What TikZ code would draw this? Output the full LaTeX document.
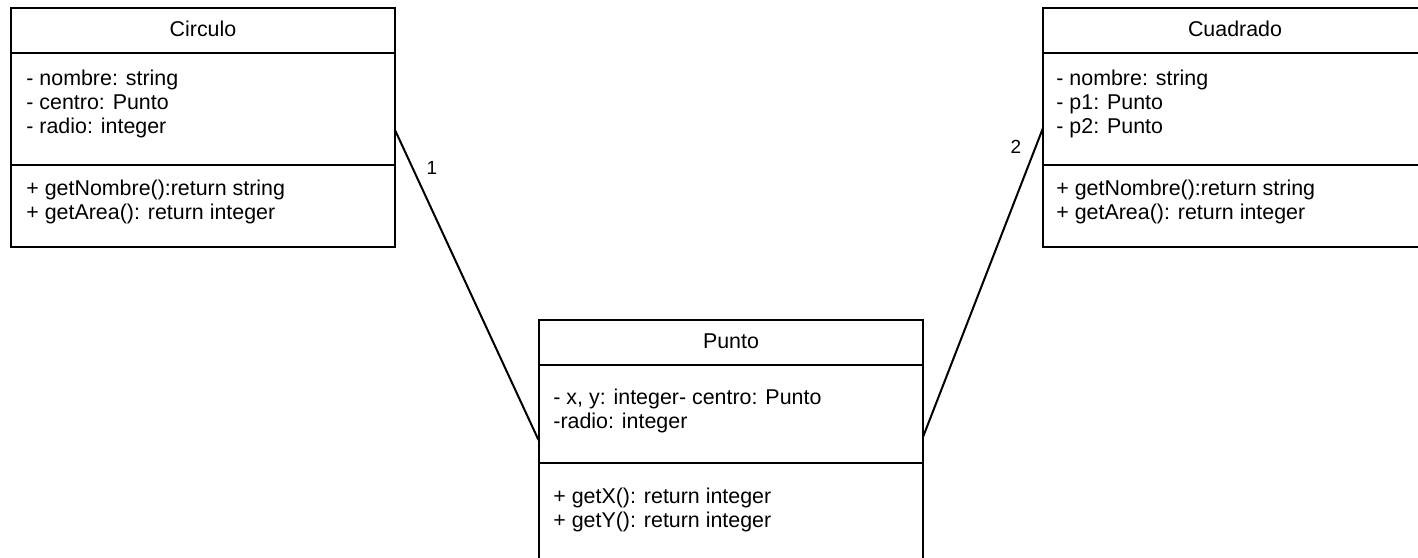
\documentclass[tikz,border=0pt]{standalone}
\usepackage{fontspec}
\setmainfont{Liberation Sans}
\begin{document}
\begin{tikzpicture}[x=0.5pt,y=-0.5pt,
  classbox/.style={draw, line width=1pt, anchor=north west, inner sep=0pt, outer sep=0pt,
    minimum width=192pt, minimum height=119.5pt},
  divider/.style={line width=1pt},
  classname/.style={inner sep=0pt, font=\fontsize{10.7}{12}\selectfont},
  members/.style={anchor=west, align=left, inner sep=0pt, font=\fontsize{10.7}{12}\selectfont},
  assoc/.style={line width=1pt},
  mult/.style={inner sep=0pt, font=\fontsize{9.5}{11}\selectfont}]
\useasboundingbox (0,0) rectangle (1418,557);
\clip (0,0) rectangle (1418,557);

% class Circulo
\node[classbox] (circulo) at (11,8) {};
\draw[divider] (11,53) -- (395,53);
\draw[divider] (11,165) -- (395,165);
\node[classname] (circuloname) at (203,29) {Circulo};
\node[members] (circuloattrs) at (26,104) {- nombre: string\\- centro: Punto\\- radio: integer};
\node[members] (circuloops) at (26,202) {+ getNombre():return string\\+ getArea(): return integer};

% class Cuadrado
\node[classbox] (cuadrado) at (1043,8) {};
\draw[divider] (1043,53) -- (1428,53);
\draw[divider] (1043,165) -- (1428,165);
\node[classname] (cuadradoname) at (1235,29) {Cuadrado};
\node[members] (cuadradoattrs) at (1056,104) {- nombre: string\\- p1: Punto\\- p2: Punto};
\node[members] (cuadradoops) at (1056,202) {+ getNombre():return string\\+ getArea(): return integer};

% class Punto
\node[classbox] (punto) at (538.5,320) {};
\draw[divider] (538.5,365) -- (923,365);
\draw[divider] (538.5,463) -- (923,463);
\node[classname] (puntoname) at (731,341) {Punto};
\node[members] (puntoattrs) at (553,411) {- x, y: integer- centro: Punto\\-radio: integer};
\node[members] (puntoops) at (553,510) {+ getX(): return integer\\+ getY(): return integer};

% association ends on the class borders
\coordinate (circuloport) at (395,130);
\coordinate (puntoleft) at (538.5,440);
\coordinate (cuadradoport) at (1043,128);
\coordinate (puntoright) at (923,437);

\draw[assoc] (circuloport) -- (puntoleft);
\draw[assoc] (cuadradoport) -- (puntoright);
\node[mult] (multcirculo) at (432,168) {1};
\node[mult] (multcuadrado) at (1016,147) {2};
\end{tikzpicture}
\end{document}
